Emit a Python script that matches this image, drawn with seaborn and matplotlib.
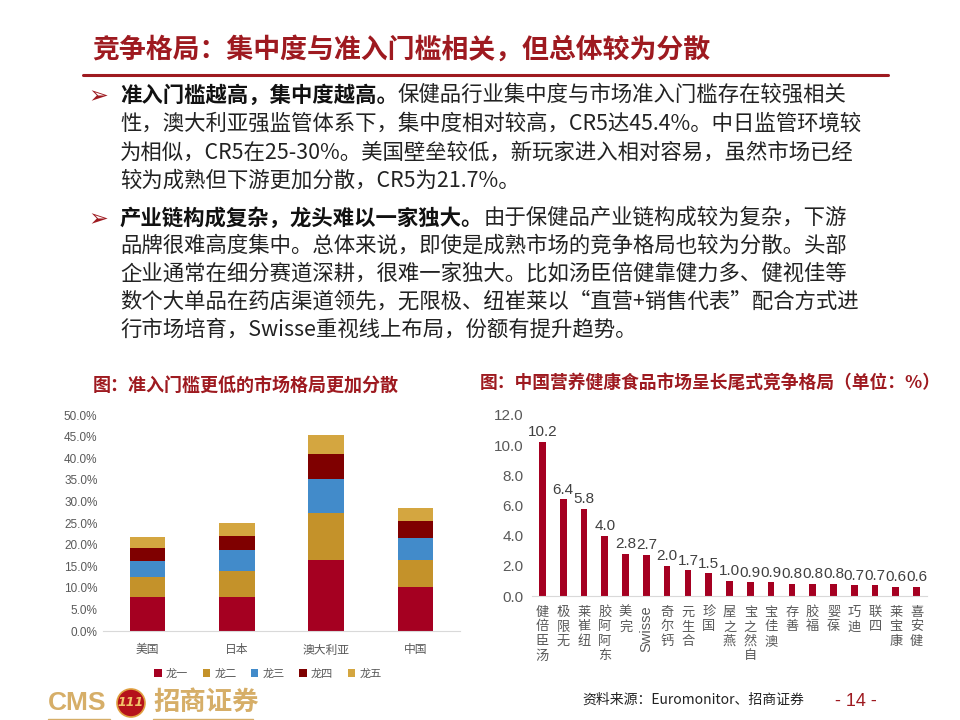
import matplotlib
matplotlib.use('Agg')
import numpy as np
import pandas as pd
import matplotlib.pyplot as plt
import seaborn as sns
from matplotlib.patches import Patch, Ellipse
from matplotlib.lines import Line2D

# ---- data ----
countries = ['美国', '日本', '澳大利亚', '中国']
tiers = ['龙一', '龙二', '龙三', '龙四', '龙五']
lead1 = [7.9, 7.9, 16.4, 10.2]
lead2 = [4.5, 6.0, 10.9, 6.2]
lead3 = [3.8, 4.9, 7.9, 5.1]
lead4 = [3.1, 3.2, 5.8, 4.0]
lead5 = [2.4, 3.0, 4.4, 3.0]
tier_colors = ['#A50021', '#C4922A', '#428BCA', '#7F0000', '#D4A640']

brands = ['汤臣倍健', '无限极', '纽崔莱', '东阿阿胶', '完美', 'Swisse', '钙尔奇',
          '合生元', '国珍', '燕之屋', '自然之宝', '澳佳宝', '善存', '福胶',
          '葆婴', '迪巧', '四联', '康宝莱', '健安喜']
shares = [10.2, 6.4, 5.8, 4.0, 2.8, 2.7, 2.0, 1.7, 1.5, 1.0, 0.9, 0.9,
          0.8, 0.8, 0.8, 0.7, 0.7, 0.6, 0.6]

title = '竞争格局：集中度与准入门槛相关，但总体较为分散'
para1 = [('准入门槛越高，集中度越高。', '保健品行业集中度与市场准入门槛存在较强相关'),
         ('', '性，澳大利亚强监管体系下，集中度相对较高，CR5达45.4%。中日监管环境较'),
         ('', '为相似，CR5在25-30%。美国壁垒较低，新玩家进入相对容易，虽然市场已经'),
         ('', '较为成熟但下游更加分散，CR5为21.7%。')]
para2 = [('产业链构成复杂，龙头难以一家独大。', '由于保健品产业链构成较为复杂，下游'),
         ('', '品牌很难高度集中。总体来说，即使是成熟市场的竞争格局也较为分散。头部'),
         ('', '企业通常在细分赛道深耕，很难一家独大。比如汤臣倍健靠健力多、健视佳等'),
         ('', '数个大单品在药店渠道领先，无限极、纽崔莱以“直营+销售代表”配合方式进'),
         ('', '行市场培育，Swisse重视线上布局，份额有提升趋势。')]

sns.set_style('white')
plt.rcParams['font.family'] = ['Noto Sans CJK SC', 'DejaVu Sans']

RED = '#A50021'
TITLE_RED = '#9E1A20'
GRAY = '#595959'
GOLD = '#D6AE68'


def fx(x):
    return x / 960


def fy(y):
    return 1 - y / 720


fig = plt.figure(figsize=(9.6, 7.2), dpi=100)
fig.patch.set_facecolor('white')
renderer = fig.canvas.get_renderer()

# ---- header ----
fig.text(fx(92), fy(50), title, fontsize=19.4, weight='bold', color=TITLE_RED,
         ha='left', va='center')
fig.add_artist(Line2D([fx(83), fx(888)], [fy(75), fy(75)], color=TITLE_RED, lw=2.2))


def write_para(lines, y0, step):
    fig.text(fx(88), fy(y0 + 1), '➢', family=['DejaVu Sans'], fontsize=17,
             color=TITLE_RED, ha='left', va='center')
    for i, (bold, rest) in enumerate(lines):
        y = fy(y0 + i * step)
        x = fx(120)
        if bold:
            t = fig.text(x, y, bold, fontsize=15.4, weight='bold', color='#111111',
                         ha='left', va='center')
            x = t.get_window_extent(renderer=renderer).x1 / 960
        fig.text(x, y, rest, fontsize=15.4, color='#222222', ha='left', va='center')


write_para(para1, 95, 28.7)
write_para(para2, 218, 27.8)

# ---- left chart: stacked bars ----
ax1 = fig.add_axes([fx(103), fy(631), 357 / 960, 216 / 720])
layers = np.cumsum(np.array([lead1, lead2, lead3, lead4, lead5]), axis=0)
for k in range(4, -1, -1):
    sns.barplot(x=countries, y=layers[k], color=tier_colors[k], width=0.4,
                saturation=1, linewidth=0, ax=ax1)
ax1.set_ylim(0, 50)
ax1.set_xlim(-0.5, 3.5)
ax1.set_yticks(np.arange(0, 51, 5))
ax1.set_yticklabels([f'{v:.1f}%' for v in np.arange(0, 51, 5)],
                    family='Liberation Sans', fontsize=8.5, color=GRAY)
ax1.set_xticks(range(4))
ax1.set_xticklabels(countries, fontsize=8.5, color=GRAY)
ax1.tick_params(axis='both', length=0, pad=4)
ax1.tick_params(axis='x', pad=9)
for s in ['top', 'right', 'left']:
    ax1.spines[s].set_visible(False)
ax1.spines['bottom'].set_color('#D9D9D9')
ax1.set_xlabel('')
ax1.set_ylabel('')

handles = [Patch(facecolor=c, edgecolor='none') for c in tier_colors]
fig.legend(handles, tiers, loc='center', bbox_to_anchor=(fx(268), fy(674)), ncol=5,
           frameon=False, fontsize=8, handlelength=0.65, handleheight=0.65,
           handletextpad=0.4, columnspacing=1.3, labelcolor=GRAY)

fig.text(fx(93), fy(386), '图：准入门槛更低的市场格局更加分散', fontsize=13,
         weight='bold', color=TITLE_RED, ha='left', va='center')

# ---- right chart: long tail ----
ax2 = fig.add_axes([fx(532), fy(596), 395 / 960, 181 / 720])
sns.barplot(x=brands, y=shares, color=RED, width=0.32, saturation=1,
            linewidth=0, ax=ax2)
ax2.set_ylim(0, 12)
ax2.set_xlim(-0.5, len(brands) - 0.5)
ax2.set_yticks(np.arange(0, 12.1, 2))
ax2.set_yticklabels([f'{v:.1f}' for v in np.arange(0, 12.1, 2)],
                    family='Liberation Sans', fontsize=11, color=GRAY)
ax2.tick_params(axis='both', length=0, pad=6)
ax2.set_xticks(range(len(brands)))
ax2.set_xticklabels([''] * len(brands))
for s in ['top', 'right', 'left']:
    ax2.spines[s].set_visible(False)
ax2.spines['bottom'].set_color('#D9D9D9')
ax2.set_xlabel('')
ax2.set_ylabel('')

for i, v in enumerate(shares):
    ax2.annotate(f'{v:.1f}', (i, v), xytext=(0, 2), textcoords='offset points',
                 ha='center', va='bottom', family='Liberation Sans', fontsize=11,
                 color='#404040')

for i, name in enumerate(brands):
    if name.isascii():
        ax2.text(i, -0.05, name, transform=ax2.get_xaxis_transform(), rotation=90,
                 ha='center', va='top', family='Liberation Sans', fontsize=10.5,
                 color=GRAY)
    else:
        ax2.text(i, -0.055, '\n'.join(reversed(name)), transform=ax2.get_xaxis_transform(),
                 ha='center', va='top', fontsize=9.5, linespacing=1.15, color=GRAY)

fig.text(fx(480), fy(383), '图：中国营养健康食品市场呈长尾式竞争格局（单位：%）',
         fontsize=12.8, weight='bold', color=TITLE_RED, ha='left', va='center')

# ---- footer ----
fig.text(fx(48), fy(703), 'CMS', family=['Liberation Sans'], fontsize=19,
         weight='bold', color=GOLD, ha='left', va='center')
fig.add_artist(Ellipse((fx(131), fy(703)), 28 / 960, 28 / 720,
                       transform=fig.transFigure, facecolor='#B5121B',
                       edgecolor='#E0A040', lw=1.2))
fig.text(fx(131), fy(703), '111', family=['DejaVu Sans'], fontsize=9, weight='bold',
         style='italic', color='#F2C46A', ha='center', va='center')
fig.text(fx(153), fy(702), '招商证券', fontsize=19, weight='bold', color=GOLD,
         ha='left', va='center')
fig.add_artist(Line2D([fx(48), fx(110)], [fy(719), fy(719)], color=GOLD, lw=1))
fig.add_artist(Line2D([fx(153), fx(253)], [fy(719), fy(719)], color=GOLD, lw=1))

fig.text(fx(582), fy(700), '资料来源：Euromonitor、招商证券', fontsize=10,
         color='#222222', ha='left', va='center')
fig.text(fx(835), fy(702), '- 14 -', family=['Liberation Sans'], fontsize=13,
         color=TITLE_RED, ha='left', va='center')

fig.savefig('out.png', dpi=100, facecolor='white')
